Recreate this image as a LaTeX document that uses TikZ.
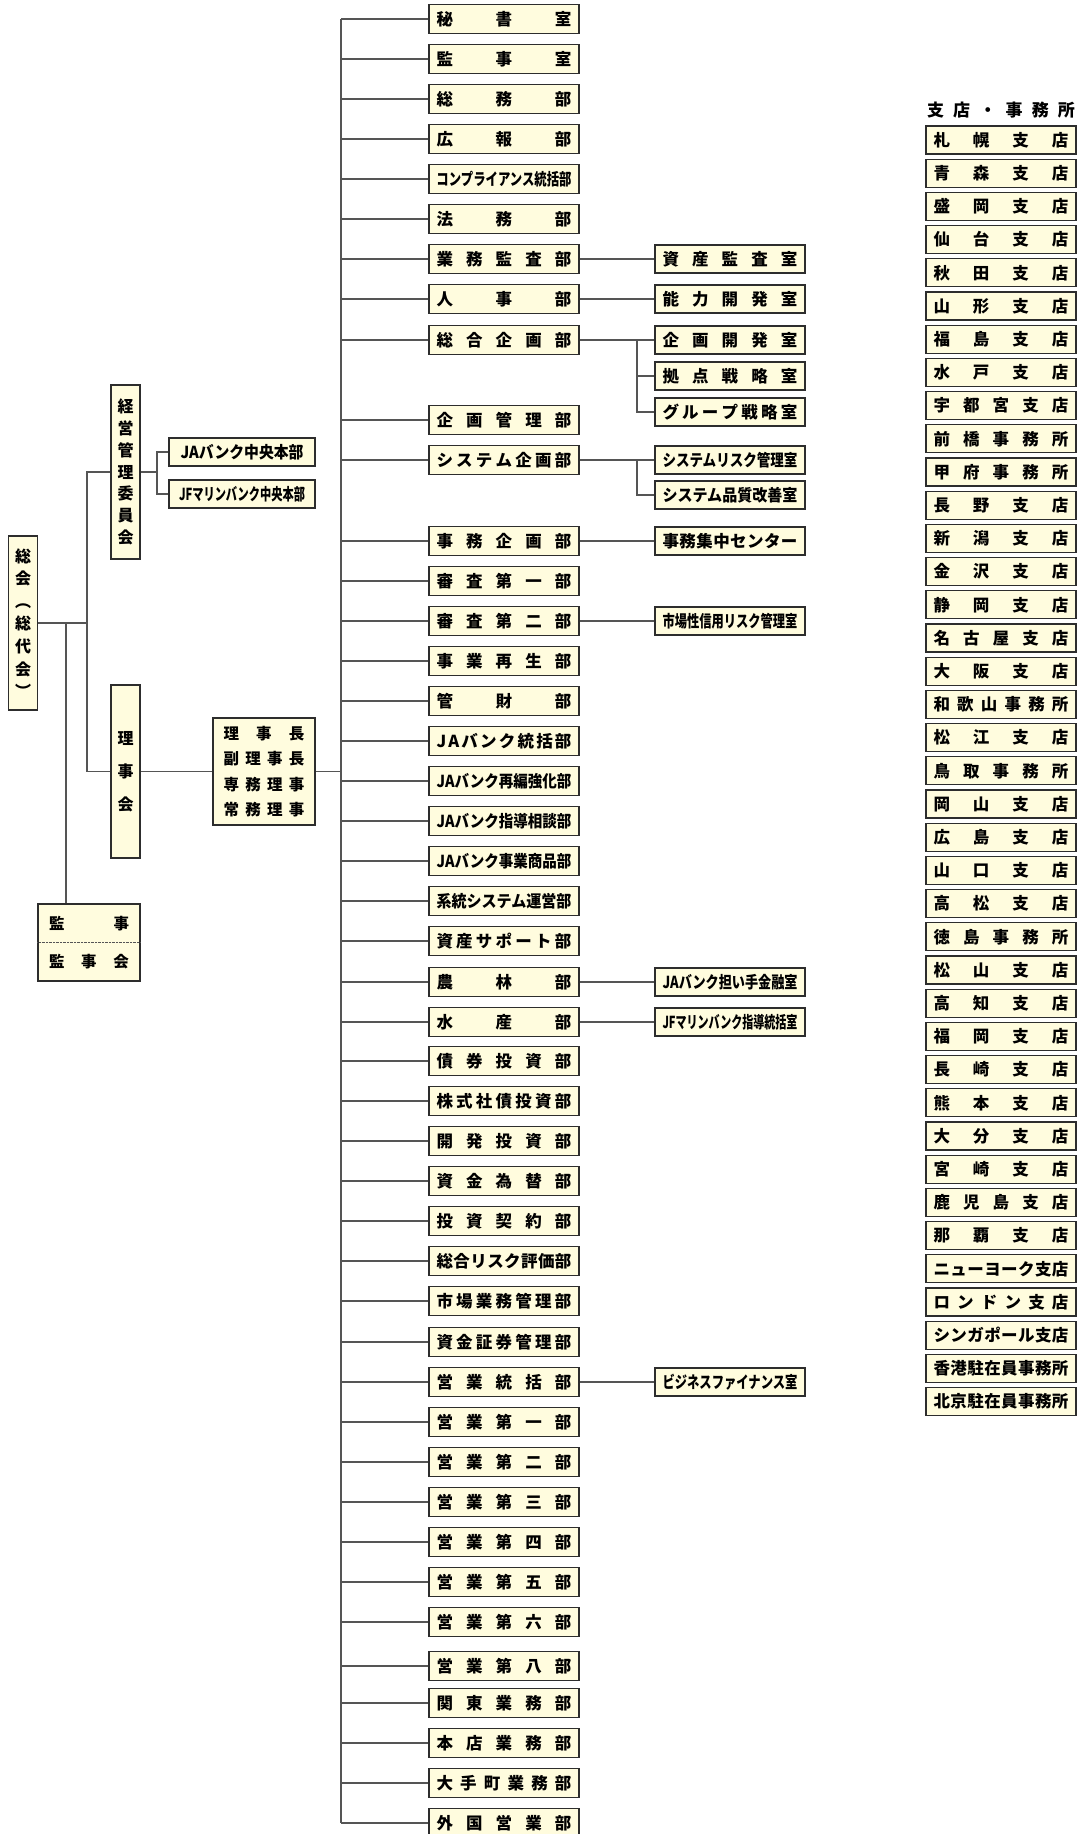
\documentclass[tikz,border=0pt]{standalone}
\usepackage{fontspec}
\setmainfont{Noto Sans CJK JP}
\usepackage{graphicx}
\definecolor{boxfill}{RGB}{255,252,222}
\definecolor{edge}{RGB}{45,45,45}
\definecolor{wire}{RGB}{85,85,85}
% spread a label over a fixed width, or squeeze it when too long
\makeatletter
\newsavebox\fit@box
\def\fit@loop#1{\ifx#1\relax\else\fit@sep#1\def\fit@sep{\hfill}\expandafter\fit@loop\fi}
\newcommand\fit[2]{%
  \sbox\fit@box{#2}%
  \ifdim\wd\fit@box>#1\relax
    \resizebox{#1}{\height}{\usebox\fit@box}%
  \else
    \edef\fit@list{#2}\def\fit@sep{}%
    \makebox[#1][s]{\expandafter\fit@loop\fit@list\relax}%
  \fi}
\makeatother
\tikzset{
  unit/.style={draw=edge, line width=1.3pt, fill=boxfill, minimum width=150, minimum height=29,
               inner sep=0pt, font=\bfseries\fontsize{16.5}{18}\selectfont},
  subunit/.style={unit, minimum height=28},
  shiten/.style={unit, minimum height=28},
  vbox/.style={unit, minimum width=29, align=center},
  link/.style={draw=wire, line width=1.1pt},
}

\begin{document}
\begin{tikzpicture}[x=1pt, y=-1pt]
\useasboundingbox (0,0) rectangle (1082,1834);
\coordinate (trunk) at (341,0);
\coordinate (sbus) at (637,0);
\coordinate (gbus) at (87,0);
\coordinate (kbus) at (66,0);
\coordinate (cbus) at (157,0);
% governing bodies
\node[vbox, minimum height=174, font=\bfseries\fontsize{16}{22.6}\selectfont] (sokai) at (23,623) {総\\会\\︵\\総\\代\\会\\︶};
\node[vbox, minimum height=174, font=\bfseries\fontsize{16}{21.7}\selectfont] (keiei) at (125.5,472) {経\\営\\管\\理\\委\\員\\会};
\node[vbox, minimum height=173, font=\bfseries\fontsize{16}{33}\selectfont] (rijikai) at (125.5,771.5) {理\\事\\会};
\node[unit, minimum width=146, minimum height=28] (jacho) at (242,452) {\fit{123pt}{JAバンク中央本部}};
\node[unit, minimum width=146, minimum height=28] (jfcho) at (242,494) {\fit{126pt}{JFマリンバンク中央本部}};
\node[unit, minimum width=102, minimum height=107, align=center, font=\bfseries\fontsize{15.5}{25.5}\selectfont] (rijicho) at (264,771.5)
  {\fit{81pt}{理事長}\\\fit{81pt}{副理事長}\\\fit{81pt}{専務理事}\\\fit{81pt}{常務理事}};
\node[unit, minimum width=102, minimum height=77, align=center, font=\bfseries\fontsize{15.5}{38}\selectfont] (kanji) at (89,942.5)
  {\fit{80pt}{監事}\\\fit{80pt}{監事会}};
\draw[densely dotted, draw=wire, thin] (kanji.west) -- (kanji.east);
\draw[link] (sokai.east) -- (sokai.east -| gbus);
\draw[link] (keiei.west) -| (gbus |- rijikai.west) -- (rijikai.west);
\draw[link] (sokai.east -| kbus) -- (kbus |- kanji.north);
\draw[link] (keiei.east) -- (keiei.east -| cbus);
\draw[link] (jacho.west) -| (cbus |- jfcho.west) -- (jfcho.west);
\draw[link] (rijikai.east) -- (rijikai.east -| rijicho.west);
\draw[link] (rijicho.east) -- (rijicho.east -| trunk);
% departments
\foreach \n/\yy/\lab in {0/19/秘書室, 1/59/監事室, 2/99/総務部, 3/139/広報部, 4/179/コンプライアンス統括部,
    5/219/法務部, 6/259/業務監査部, 7/299/人事部, 8/340/総合企画部, 9/420/企画管理部, 10/460/システム企画部,
    11/541/事務企画部, 12/581/審査第一部, 13/621/審査第二部, 14/661/事業再生部, 15/701/管財部,
    16/741/JAバンク統括部, 17/781/JAバンク再編強化部, 18/821/JAバンク指導相談部, 19/861/JAバンク事業商品部,
    20/901/系統システム運営部, 21/941/資産サポート部, 22/982/農林部, 23/1022/水産部, 24/1061/債券投資部,
    25/1101/株式社債投資部, 26/1141/開発投資部, 27/1181/資金為替部, 28/1221/投資契約部, 29/1261/総合リスク評価部,
    30/1301/市場業務管理部, 31/1342/資金証券管理部, 32/1382/営業統括部, 33/1422/営業第一部, 34/1462/営業第二部,
    35/1502/営業第三部, 36/1542/営業第四部, 37/1582/営業第五部, 38/1622/営業第六部, 39/1666/営業第八部,
    40/1703/関東業務部, 41/1743/本店業務部, 42/1783/大手町業務部, 43/1823/外国営業部} {
  \node[unit] (m\n) at (504,\yy) {\fit{135pt}{\lab}};
  \draw[link] (m\n.west) -- (m\n.west -| trunk);
}
\draw[link] (m0.west -| trunk) -- (m43.west -| trunk);
% offices under departments
\foreach \nm/\yy/\lab in {sa/259/資産監査室, no/299/能力開発室, kk/340/企画開発室, ks/376/拠点戦略室,
    gs/412/グループ戦略室, sr/460/システムリスク管理室, sq/495/システム品質改善室, jc/541/事務集中センター,
    sj/621/市場性信用リスク管理室, ja/982/JAバンク担い手金融室, jf/1022/JFマリンバンク指導統括室,
    bf/1382/ビジネスファイナンス室} {
  \node[subunit] (\nm) at (730,\yy) {\fit{135pt}{\lab}};
}
\draw[link] (m6.east) -- (sa.west);
\draw[link] (m7.east) -- (no.west);
\draw[link] (m8.east) -- (kk.west);
\draw[link] (m8.east -| sbus) |- (ks.west) (m8.east -| sbus) |- (gs.west);
\draw[link] (m10.east) -- (sr.west);
\draw[link] (m10.east -| sbus) |- (sq.west);
\draw[link] (m11.east) -- (jc.west);
\draw[link] (m13.east) -- (sj.west);
\draw[link] (m22.east) -- (ja.west);
\draw[link] (m23.east) -- (jf.west);
\draw[link] (m32.east) -- (bf.west);
% branches
\node[font=\bfseries\fontsize{17}{20}\selectfont, inner sep=0pt] (title) at (1001,110) {\fit{148pt}{支店・事務所}};
\foreach \lab [count=\n from 0] in {札幌支店, 青森支店, 盛岡支店, 仙台支店, 秋田支店, 山形支店, 福島支店, 水戸支店,
    宇都宮支店, 前橋事務所, 甲府事務所, 長野支店, 新潟支店, 金沢支店, 静岡支店, 名古屋支店, 大阪支店, 和歌山事務所,
    松江支店, 鳥取事務所, 岡山支店, 広島支店, 山口支店, 高松支店, 徳島事務所, 松山支店, 高知支店, 福岡支店,
    長崎支店, 熊本支店, 大分支店, 宮崎支店, 鹿児島支店, 那覇支店, ニューヨーク支店, ロンドン支店,
    シンガポール支店, 香港駐在員事務所, 北京駐在員事務所} {
  \node[shiten] (b\n) at (1001,{140+33.2*\n}) {\fit{135pt}{\lab}};
}
\end{tikzpicture}
\end{document}
